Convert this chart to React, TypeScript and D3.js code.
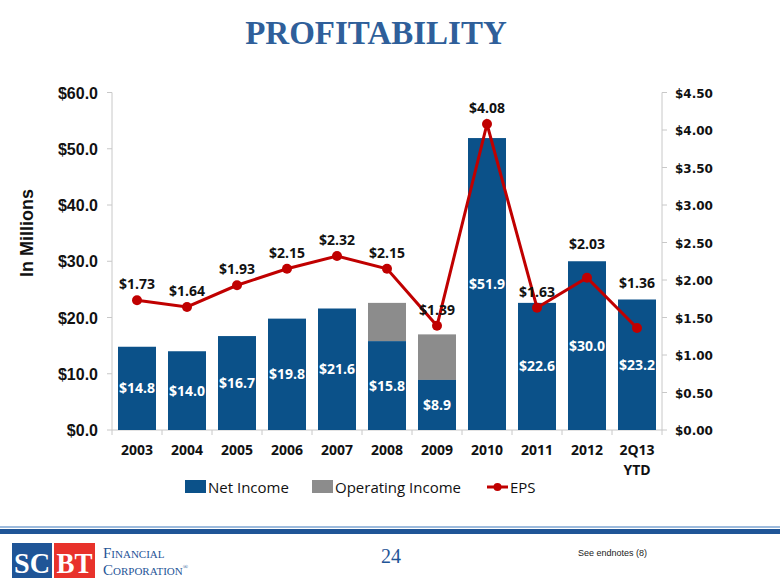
import React from "react";
import * as d3 from "d3";

const categories = ["2003", "2004", "2005", "2006", "2007", "2008", "2009", "2010", "2011", "2012", "2Q13"];
const netIncome = [14.8, 14.0, 16.7, 19.8, 21.6, 15.8, 8.9, 51.9, 22.6, 30.0, 23.2];
const operatingIncome = [null, null, null, null, null, 22.6, 17.0, null, null, null, null];
const eps = [1.73, 1.64, 1.93, 2.15, 2.32, 2.15, 1.39, 4.08, 1.63, 2.03, 1.36];
const leftTicks = [0, 10, 20, 30, 40, 50, 60];
const rightTicks = [0, 0.5, 1, 1.5, 2, 2.5, 3, 3.5, 4, 4.5];

const BLUE = "#0B5189";
const GRAY = "#8C8C8C";
const RED = "#C00000";

export default function App() {
  const x0 = 112, x1 = 662, yTop = 92.5, yBot = 430;
  const x = d3.scaleBand<string>().domain(categories).range([x0, x1]).paddingInner(0.24).paddingOuter(0.12);
  const yL = d3.scaleLinear().domain([0, 60]).range([yBot, yTop]);
  const yR = d3.scaleLinear().domain([0, 4.5]).range([yBot, yTop]);
  const bw = x.bandwidth();
  const cx = (c: string) => (x(c) as number) + bw / 2;
  const line = d3.line<number>().x((_, i) => cx(categories[i])).y((d) => yR(d));
  const step = (x1 - x0) / categories.length;
  const boundaries = d3.range(categories.length + 1).map((i) => x0 + i * step);
  const epsLabelY = (v: number, i: number) => {
    const py = yR(v);
    const top = yL(Math.max(netIncome[i], operatingIncome[i] ?? 0));
    const base = py - 11;
    return py > top + 10 ? top - 12 : base;
  };

  return (
    <svg width={780} height={585} style={{ position: "absolute", left: 0, top: 0, background: "#fff" }}>
      <text x={376} y={44} textAnchor="middle" fontFamily="Liberation Serif, serif" fontWeight="bold" fontSize={33} fill="#2F5F9A">PROFITABILITY</text>

      {/* axes */}
      <line x1={x0} x2={x0} y1={yTop} y2={yBot} stroke="#C8C8C8" />
      <line x1={x1} x2={x1} y1={yTop} y2={yBot} stroke="#C8C8C8" />
      <line x1={x0} x2={x1} y1={yBot} y2={yBot} stroke="#C8C8C8" />
      {leftTicks.map((t) => (
        <g key={"l" + t}>
          <line x1={x0 - 5} x2={x0} y1={yL(t)} y2={yL(t)} stroke="#C8C8C8" />
          <text x={98} y={yL(t) + 6} textAnchor="end" fontFamily="Liberation Sans, Arial" fontWeight="bold" fontSize={16} fill="#111">{"$" + t.toFixed(1)}</text>
        </g>
      ))}
      {rightTicks.map((t) => (
        <g key={"r" + t}>
          <line x1={x1} x2={x1 + 5} y1={yR(t)} y2={yR(t)} stroke="#C8C8C8" />
          <text x={675} y={yR(t) + 5} textAnchor="start" fontFamily="DejaVu Sans, Verdana" fontWeight="bold" fontSize={12} fill="#111">{"$" + t.toFixed(2)}</text>
        </g>
      ))}
      {boundaries.map((b, i) => (
        <line key={"b" + i} x1={b} x2={b} y1={yBot} y2={yBot + 5} stroke="#C8C8C8" />
      ))}
      <text transform="translate(33,233) rotate(-90)" textAnchor="middle" fontFamily="Liberation Sans, Arial" fontWeight="bold" fontSize={18} fill="#111">In Millions</text>

      {/* operating income */}
      {operatingIncome.map((v, i) => v == null ? null : (
        <rect key={"o" + i} x={x(categories[i])} y={yL(v)} width={bw} height={yL(netIncome[i]) - yL(v)} fill={GRAY} />
      ))}
      {/* net income */}
      {netIncome.map((v, i) => (
        <rect key={"n" + i} x={x(categories[i])} y={yL(v)} width={bw} height={yBot - yL(v)} fill={BLUE} />
      ))}
      {netIncome.map((v, i) => (
        <text key={"nl" + i} x={cx(categories[i])} y={(yL(v) + yBot) / 2 + 5} textAnchor="middle" fontFamily="Open Sans, sans-serif" fontWeight="bold" fontSize={14} fill="#fff">{"$" + v.toFixed(1)}</text>
      ))}

      {/* EPS */}
      <path d={line(eps) || ""} fill="none" stroke={RED} strokeWidth={3} />
      {eps.map((v, i) => (
        <circle key={"e" + i} cx={cx(categories[i])} cy={yR(v)} r={5} fill={RED} />
      ))}
      {eps.map((v, i) => (
        <text key={"el" + i} x={cx(categories[i])} y={epsLabelY(v, i)} textAnchor="middle" fontFamily="Open Sans, sans-serif" fontWeight="bold" fontSize={14} fill="#111">{"$" + v.toFixed(2)}</text>
      ))}

      {/* x labels */}
      {categories.map((c) => (
        <text key={"x" + c} x={cx(c)} y={455} textAnchor="middle" fontFamily="Open Sans, sans-serif" fontWeight="bold" fontSize={14} fill="#111">{c}</text>
      ))}
      <text x={cx("2Q13")} y={475} textAnchor="middle" fontFamily="Open Sans, sans-serif" fontWeight="bold" fontSize={14} fill="#111">YTD</text>

      {/* legend */}
      <rect x={185} y={480} width={21} height={13} fill={BLUE} />
      <text x={208} y={493} fontFamily="Open Sans, sans-serif" fontSize={15} fill="#111">Net Income</text>
      <rect x={312} y={480} width={21} height={13} fill={GRAY} />
      <text x={335} y={493} fontFamily="Open Sans, sans-serif" fontSize={15} fill="#111">Operating Income</text>
      <line x1={487} x2={508} y1={487} y2={487} stroke={RED} strokeWidth={3} />
      <circle cx={497.5} cy={487} r={4} fill={RED} />
      <text x={510} y={493} fontFamily="Open Sans, sans-serif" fontSize={15} fill="#111">EPS</text>

      {/* footer */}
      <rect x={0} y={526} width={780} height={2} fill="#9DBBDD" />
      <rect x={0} y={529} width={780} height={5} fill="#1F5597" />
      <rect x={12} y={543} width={40} height={35} fill="#1F5597" />
      <text x={32} y={573} textAnchor="middle" fontFamily="Liberation Serif, serif" fontWeight="bold" fontSize={30} fill="#fff" textLength={36} lengthAdjust="spacingAndGlyphs">SC</text>
      <rect x={54} y={543} width={41} height={35} fill="#E8322B" />
      <text x={74.5} y={573} textAnchor="middle" fontFamily="Liberation Serif, serif" fontWeight="bold" fontSize={30} fill="#fff" textLength={36} lengthAdjust="spacingAndGlyphs">BT</text>
      <text x={103} y={558} fontFamily="Liberation Serif, serif" fontSize={15} fill="#1F5597">F<tspan fontSize={11}>INANCIAL</tspan></text>
      <text x={103} y={575} fontFamily="Liberation Serif, serif" fontSize={15} fill="#1F5597">C<tspan fontSize={11}>ORPORATION</tspan><tspan fontSize={7} dy={-6}>®</tspan></text>
      <text x={391} y={563} textAnchor="middle" fontFamily="Liberation Serif, serif" fontSize={20} fill="#1F5597">24</text>
      <text x={578} y={556} fontFamily="Liberation Sans, Arial" fontSize={9} fill="#222">See endnotes (8)</text>
    </svg>
  );
}
